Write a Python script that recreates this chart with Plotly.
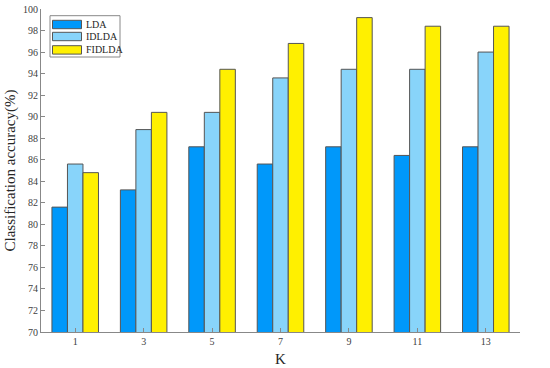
import plotly.graph_objects as go

k_values = [1, 3, 5, 7, 9, 11, 13]
lda = [81.6, 83.2, 87.2, 85.6, 87.2, 86.4, 87.2]
idlda = [85.6, 88.8, 90.4, 93.6, 94.4, 94.4, 96.0]
fidlda = [84.8, 90.4, 94.4, 96.8, 99.2, 98.4, 98.4]
y_ticks = list(range(70, 101, 2))

series = [("LDA", lda, "#0098FA"), ("IDLDA", idlda, "#88D4FA"), ("FIDLDA", fidlda, "#FFF000")]

W, H = 550, 368
ML, MR, MT, MB = 41, 30, 9, 36
PW, PH = W - ML - MR, H - MT - MB

def px(x):
    return (x - ML) / PW

def py(y):
    return (H - MB - y) / PH

fig = go.Figure()
for name, vals, col in series:
    fig.add_trace(go.Bar(x=k_values, y=vals, name=name, showlegend=False,
                         marker=dict(color=col, line=dict(color="#555555", width=1))))

font = "Liberation Serif"

shapes = [dict(type="rect", xref="paper", yref="paper", x0=px(50), x1=px(120), y0=py(57), y1=py(15.7),
               line=dict(color="#888888", width=1), fillcolor="white", layer="above")]
annotations = []
row_tops = [20.3, 32.3, 45.7]
for (name, vals, col), top in zip(series, row_tops):
    shapes.append(dict(type="rect", xref="paper", yref="paper", x0=px(52.5), x1=px(81.5),
                       y0=py(top + 8.4), y1=py(top), line=dict(color="#555555", width=1),
                       fillcolor=col, layer="above"))
    annotations.append(dict(xref="paper", yref="paper", x=px(84), y=py(top + 4.2), xanchor="left",
                            yanchor="middle", text=name, showarrow=False,
                            font=dict(size=10, family=font, color="#262626")))

fig.update_layout(
    width=W, height=H,
    margin=dict(l=ML, r=MR, t=MT, b=MB),
    plot_bgcolor="white", paper_bgcolor="white",
    barmode="group", bargap=0.32, bargroupgap=0,
    font=dict(family=font, color="#262626"),
    showlegend=False,
    shapes=shapes, annotations=annotations,
    xaxis=dict(range=[0, 14], tickvals=k_values, ticktext=[str(k) for k in k_values],
               showline=True, linecolor="#888888", linewidth=1, ticks="inside", ticklen=4,
               tickcolor="#888888", showgrid=False, zeroline=False, automargin=False,
               tickfont=dict(size=10, family=font, color="#404040"),
               title=dict(text="K", font=dict(size=15, family=font, color="#262626"), standoff=7)),
    yaxis=dict(range=[70, 100], tickvals=y_ticks, ticktext=[str(t) for t in y_ticks],
               showline=True, linecolor="#888888", linewidth=1, ticks="inside", ticklen=4,
               tickcolor="#888888", showgrid=False, zeroline=False, automargin=False,
               tickfont=dict(size=10, family=font, color="#404040"),
               title=dict(text="Classification accuracy(%)", font=dict(size=15, family=font, color="#262626"), standoff=3)),
)
fig.write_html("out.html", config={"displayModeBar": False},
               post_script="document.body.style.margin='0';document.body.style.overflow='hidden';")
